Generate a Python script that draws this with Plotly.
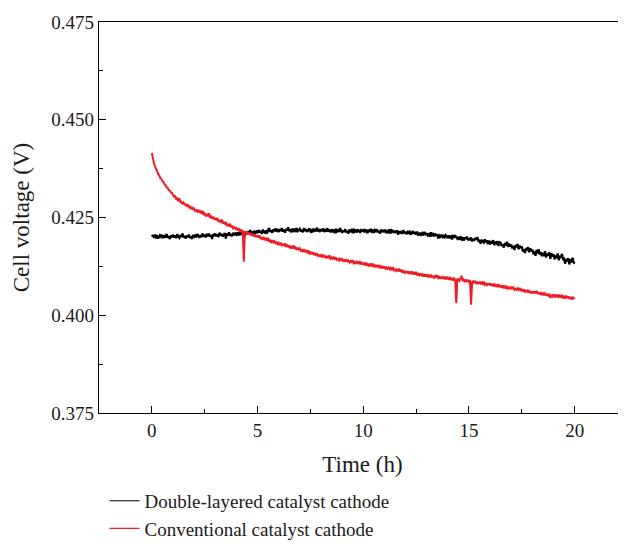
import numpy as np
import plotly.graph_objects as go

# Time axis (h), one reading every 0.05 h
time_h = np.round(np.arange(0, 20.0001, 0.05), 2)

# Values, in units of 0.1 mV (4201 -> 0.4201 V)
double_layered_01mV = [
    4201,4205,4198,4206,4199,4202,4196,4204,4207,4200,4203,4197,4205,4199,4208,4198,4202,4195,4204,4200,
    4206,4199,4204,4197,4207,4201,4198,4205,4200,4209,4199,4203,4196,4204,4200,4206,4198,4202,4195,4205,
    4201,4206,4199,4208,4202,4198,4205,4200,4209,4201,4206,4199,4208,4202,4209,4201,4205,4195,4208,4203,
    4209,4202,4207,4200,4211,4204,4208,4201,4206,4210,4196,4209,4204,4212,4203,4208,4202,4211,4205,4209,
    4206,4212,4204,4211,4208,4214,4205,4210,4203,4213,4210,4215,4208,4218,4209,4212,4207,4216,4211,4214,
    4210,4218,4212,4216,4208,4219,4213,4211,4217,4209,4218,4223,4213,4217,4211,4220,4215,4222,4214,4218,
    4213,4220,4216,4223,4214,4219,4211,4221,4217,4225,4215,4220,4212,4222,4216,4219,4213,4223,4215,4218,
    4221,4214,4218,4212,4223,4216,4220,4213,4219,4222,4215,4211,4221,4216,4220,4214,4224,4215,4218,4213,
    4220,4215,4222,4213,4218,4216,4223,4214,4219,4212,4220,4215,4219,4210,4221,4214,4217,4213,4223,4215,
    4211,4217,4213,4220,4212,4216,4209,4219,4215,4218,4210,4221,4214,4217,4212,4220,4213,4211,4218,4216,
    4218,4212,4220,4214,4210,4219,4213,4221,4214,4217,4211,4218,4215,4220,4212,4216,4209,4219,4213,4218,
    4212,4219,4210,4215,4217,4209,4220,4213,4216,4211,4216,4210,4217,4206,4213,4211,4215,4208,4218,4210,
    4214,4207,4213,4210,4216,4206,4212,4215,4208,4213,4206,4214,4204,4209,4211,4203,4210,4207,4213,4205,
    4210,4204,4207,4201,4212,4205,4208,4202,4209,4203,4207,4196,4204,4201,4206,4200,4203,4197,4205,4202,
    4197,4204,4199,4202,4194,4205,4198,4203,4201,4196,4200,4193,4202,4194,4197,4191,4199,4195,4201,4192,
    4197,4192,4199,4189,4195,4191,4198,4193,4200,4190,4191,4183,4193,4189,4186,4194,4187,4192,4182,4191,
    4181,4190,4183,4192,4179,4188,4184,4189,4177,4187,4186,4177,4181,4173,4185,4178,4188,4175,4183,4176,
    4181,4171,4177,4167,4180,4174,4182,4169,4178,4172,4176,4163,4169,4159,4172,4166,4174,4161,4171,4164,
    4168,4156,4163,4152,4167,4158,4169,4155,4162,4151,4160,4151,4164,4148,4158,4153,4161,4144,4159,4150,
    4156,4143,4153,4146,4158,4141,4152,4147,4157,4144,4145,4132,4144,4138,4146,4130,4143,4135,4147,4136,
    4132,
]

conventional_01mV = [
    4415,4398,4388,4381,4372,4368,4361,4358,4351,4349,4343,4341,4335,4333,4327,4326,4320,4319,4314,4313,
    4308,4302,4306,4298,4299,4292,4299,4289,4290,4284,4288,4283,4284,4278,4284,4276,4278,4273,4277,4271,
    4273,4267,4269,4265,4270,4264,4266,4259,4267,4258,4260,4255,4259,4253,4261,4251,4253,4247,4252,4245,
    4249,4243,4249,4239,4242,4239,4245,4235,4238,4233,4238,4230,4232,4229,4234,4225,4229,4222,4225,4221,
    4223,4217,4223,4216,4218,4214,4218,4137,4215,4209,4214,4207,4212,4205,4210,4203,4208,4201,4206,4200,
    4204,4198,4204,4195,4198,4195,4200,4192,4196,4191,4198,4188,4191,4187,4192,4186,4189,4183,4188,4182,
    4185,4179,4186,4179,4181,4177,4184,4175,4179,4175,4179,4172,4175,4171,4179,4170,4173,4167,4173,4168,
    4171,4165,4167,4162,4169,4163,4165,4159,4166,4158,4161,4156,4161,4156,4158,4153,4159,4152,4154,4151,
    4154,4148,4155,4149,4151,4146,4152,4146,4153,4145,4148,4143,4148,4144,4148,4142,4144,4140,4145,4141,
    4144,4139,4141,4137,4143,4138,4140,4135,4139,4136,4141,4133,4136,4133,4137,4133,4136,4130,4137,4130,
    4134,4128,4135,4128,4131,4127,4132,4125,4133,4126,4129,4123,4127,4123,4129,4123,4126,4120,4126,4120,
    4125,4119,4122,4117,4124,4118,4121,4115,4123,4115,4117,4113,4117,4114,4117,4112,4117,4109,4113,4109,
    4113,4107,4113,4108,4110,4105,4112,4105,4109,4104,4111,4102,4106,4102,4107,4102,4105,4099,4105,4099,
    4104,4099,4102,4097,4104,4098,4100,4096,4100,4096,4103,4095,4098,4093,4099,4095,4097,4092,4099,4092,
    4096,4091,4096,4092,4094,4089,4094,4090,4031,4094,4092,4088,4093,4101,4088,4091,4085,4091,4087,4089,
    4085,4090,4027,4085,4087,4082,4088,4082,4084,4080,4086,4081,4084,4078,4086,4078,4081,4077,4082,4077,
    4082,4076,4080,4074,4081,4075,4077,4072,4080,4072,4076,4070,4076,4071,4074,4068,4075,4068,4071,4067,
    4073,4067,4073,4065,4068,4065,4069,4065,4070,4062,4066,4062,4066,4060,4063,4060,4065,4058,4062,4056,
    4061,4056,4061,4056,4062,4056,4057,4053,4059,4053,4056,4051,4056,4052,4053,4049,4055,4044,4052,4048,
    4053,4048,4051,4046,4053,4047,4050,4045,4052,4045,4048,4043,4050,4044,4048,4042,4047,4040,4047,4043,
    4045,
]

double_layered = np.array(double_layered_01mV) / 10000.0
conventional = np.array(conventional_01mV) / 10000.0

series_names = ["Double-layered catalyst cathode", "Conventional catalyst cathode"]
series_colors = ["#000000", "#ee1c25"]

x_ticks = [0, 5, 10, 15, 20]
x_minor = [2.5, 7.5, 12.5, 17.5]
y_ticks = [0.375, 0.400, 0.425, 0.450, 0.475]
y_minor = [0.3875, 0.4125, 0.4375, 0.4625]
y_tick_labels = ["0.375", "0.400", "0.425", "0.450", "0.475"]

FONT = "Liberation Serif"

fig = go.Figure()
for name, color, vals, w in zip(series_names, series_colors,
                                [double_layered, conventional], [2.2, 2.0]):
    fig.add_trace(go.Scatter(x=time_h, y=vals, mode="lines", name=name,
                             showlegend=False, legendgroup=name,
                             line=dict(color=color, width=w)))
# thin legend entries (legend-only, no data drawn)
for name, color in zip(series_names, series_colors):
    fig.add_trace(go.Scatter(x=[None], y=[None], mode="lines", name=name,
                             legendgroup=name, line=dict(color=color, width=1.2)))

fig.update_layout(
    width=618, height=540,
    margin=dict(l=91, r=0, t=14, b=135),
    paper_bgcolor="white", plot_bgcolor="white",
    font=dict(family=FONT, size=19, color="#1a1a1a"),
    showlegend=True,
    legend=dict(x=0.0104, y=-0.345, xanchor="left", yanchor="bottom",
                font=dict(family=FONT, size=19, color="#1a1a1a"),
                bgcolor="rgba(0,0,0,0)", tracegroupgap=0),
)
fig.update_xaxes(
    range=[-2.5, 22.43], tickvals=x_ticks, ticktext=[str(v) for v in x_ticks],
    ticks="inside", ticklen=7, tickwidth=1.3, tickcolor="#000",
    minor=dict(tickvals=x_minor, ticks="inside", ticklen=4, tickwidth=1.2, tickcolor="#000"),
    showline=True, linecolor="#000", linewidth=1.4, mirror=True,
    showgrid=False, zeroline=False,
    title=dict(text="Time (h)"),
)
fig.update_yaxes(
    range=[0.375, 0.475], tickvals=y_ticks, ticktext=y_tick_labels,
    ticks="inside", ticklen=7, tickwidth=1.3, tickcolor="#000",
    minor=dict(tickvals=y_minor, ticks="inside", ticklen=4, tickwidth=1.2, tickcolor="#000"),
    showline=True, linecolor="#000", linewidth=1.4, mirror=False,
    showgrid=False, zeroline=False,
    title=dict(text="Cell voltage (V)"),
)

fig.write_html("out.html")
